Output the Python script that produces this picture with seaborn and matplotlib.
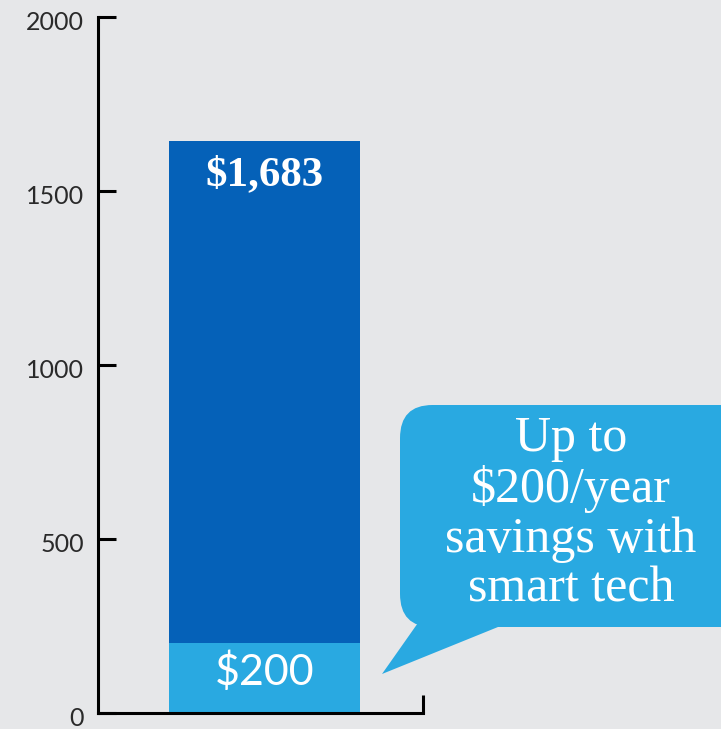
"""Annual energy cost bar with smart-tech savings callout."""
import matplotlib
matplotlib.use("Agg")
import matplotlib.pyplot as plt
import matplotlib.transforms as mtransforms
from matplotlib.patches import FancyBboxPatch, Polygon
import pandas as pd
import seaborn as sns

# data
categories = ["cost"]
total_cost = [1645]
savings = [200]
bar_labels = ["$1,683", "$200"]
y_ticks = [0, 500, 1000, 1500, 2000]
callout_text = "Up to\n$200/year\nsavings with\nsmart tech"

BG = "#e6e7e9"
DARK = "#0561b8"
LIGHT = "#29a9e1"

W, H = 721, 729
sns.set_theme(style="white")
plt.rcParams["font.family"] = ["Lato", "DejaVu Sans"]

fig = plt.figure(figsize=(W / 100, H / 100), dpi=100)
fig.patch.set_facecolor(BG)


def fx(px):
    return px / W


def fy(py):
    return 1 - py / H


# axes box in pixels: left 98, right 423, top 17, bottom 713
ax = fig.add_axes([fx(98), fy(713), fx(423) - fx(98), fy(17) - fy(713)])
ax.set_facecolor(BG)

df = pd.DataFrame({"cat": categories, "total": total_cost, "save": savings})
sns.barplot(data=df, x="cat", y="total", color=DARK, saturation=1,
            width=0.8, linewidth=0, edgecolor="none", ax=ax)
sns.barplot(data=df, x="cat", y="save", color=LIGHT, saturation=1,
            width=0.8, linewidth=0, edgecolor="none", ax=ax)

ax.set_xlim(-0.697, 0.664)
ax.set_ylim(0, 2000)
ax.set_xlabel("")
ax.set_ylabel("")

for side in ["top", "right"]:
    ax.spines[side].set_visible(False)
for side in ["left", "bottom"]:
    ax.spines[side].set_linewidth(2.2)
    ax.spines[side].set_color("black")
    ax.spines[side].set_capstyle("projecting")

ax.set_yticks(y_ticks)
ax.set_yticklabels([str(t) for t in y_ticks])
ax.tick_params(axis="y", left=True, direction="in", length=13, width=2.2,
               color="black", pad=10, labelsize=18, labelcolor="#2a2a2a")
for lab in ax.get_yticklabels():
    lab.set_transform(lab.get_transform() + mtransforms.ScaledTranslation(
        0, -4 / 100, fig.dpi_scale_trans))

# single tick at the right end of the baseline
ax.set_xticks([0.664])
ax.set_xticklabels([""])
ax.tick_params(axis="x", bottom=True, direction="in", length=13, width=2.2,
               color="black")

# labels on the bars
ax.text(0, 1545, bar_labels[0], ha="center", va="center", color="white",
        fontsize=31, fontfamily=["Liberation Serif", "DejaVu Serif"],
        fontweight="bold")
ax.text(0, 118, bar_labels[1], ha="center", va="center", color="white",
        fontsize=31)

# speech bubble callout
bubble = FancyBboxPatch((fx(400), fy(627)), fx(360), fy(405) - fy(627),
                        boxstyle="round,pad=0,rounding_size=0.045",
                        transform=fig.transFigure, facecolor=LIGHT,
                        edgecolor="none", mutation_aspect=H / W)
fig.patches.append(bubble)
tail = Polygon([(fx(420), fy(620)), (fx(382), fy(674)), (fx(498), fy(627)),
                (fx(498), fy(620))], closed=True, transform=fig.transFigure,
               facecolor=LIGHT, edgecolor="none")
fig.patches.append(tail)
fig.text(fx(571), fy(514), callout_text, ha="center", va="center",
         color="white", fontsize=36, linespacing=1.09,
         fontfamily=["Liberation Serif", "DejaVu Serif"])

fig.savefig("out.png", dpi=100, facecolor=BG)
